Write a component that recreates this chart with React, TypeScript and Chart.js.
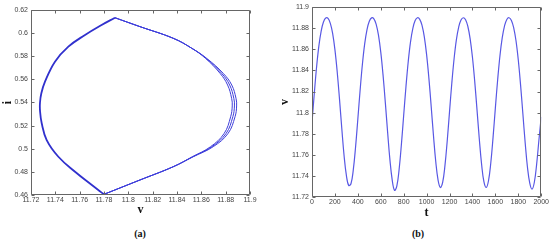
import React, { useEffect, useRef } from "react";
import { Chart, registerables } from "chart.js";

Chart.register(...registerables);

// ---------- Panel (a): phase portrait i vs v ----------
const vTicksA = [11.72, 11.74, 11.76, 11.78, 11.8, 11.82, 11.84, 11.86, 11.88, 11.9];
const iTicksA = [0.46, 0.48, 0.5, 0.52, 0.54, 0.56, 0.58, 0.6, 0.62];

// left arc: bottom vertex -> leftmost -> top vertex
const leftArcV = [11.780, 11.770, 11.7562, 11.7425, 11.7329, 11.7288, 11.7274, 11.7274, 11.7285, 11.7315, 11.7397, 11.7507, 11.7644, 11.778, 11.789];
const leftArcI = [0.4606, 0.4686, 0.4801, 0.4931, 0.5075, 0.5220, 0.5330, 0.5400, 0.5480, 0.5580, 0.5753, 0.5883, 0.5984, 0.6070, 0.6133];

// right arc: top vertex -> rightmost -> bottom vertex (three nearly coincident loops)
const rightArcI = [0.6133, 0.6056, 0.5955, 0.5870, 0.5782, 0.5652, 0.5551, 0.5436, 0.5370, 0.5277, 0.5133, 0.5018, 0.4931, 0.4845, 0.4730, 0.4606];
const rightArcV1 = [11.789, 11.8096, 11.837, 11.852, 11.8644, 11.878, 11.885, 11.8885, 11.889, 11.8877, 11.882, 11.8698, 11.8534, 11.837, 11.8096, 11.780];
const rightArcV2 = [11.789, 11.8096, 11.837, 11.852, 11.8639, 11.8767, 11.8833, 11.8867, 11.8872, 11.8859, 11.8804, 11.8687, 11.8530, 11.837, 11.8096, 11.780];
const rightArcV3 = [11.789, 11.8096, 11.837, 11.852, 11.8634, 11.8754, 11.8816, 11.8849, 11.8854, 11.8841, 11.8788, 11.8676, 11.8526, 11.837, 11.8096, 11.780];

// ---------- Panel (b): v vs t ----------
const tTicksB = [0, 200, 400, 600, 800, 1000, 1200, 1400, 1600, 1800, 2000];
const vTicksB = [11.72, 11.74, 11.76, 11.78, 11.8, 11.82, 11.84, 11.86, 11.88, 11.9];

const timeT = [
  0, 20, 40, 60, 80, 100, 120, 140, 160, 180, 200, 220, 240, 260, 280, 300, 320, 340, 360, 380,
  400, 420, 440, 460, 480, 500, 520, 540, 560, 580, 600, 620, 640, 660, 680, 700, 720, 740, 760, 780,
  800, 820, 840, 860, 880, 900, 920, 940, 960, 980, 1000, 1020, 1040, 1060, 1080, 1100, 1120, 1140, 1160, 1180,
  1200, 1220, 1240, 1260, 1280, 1300, 1320, 1340, 1360, 1380, 1400, 1420, 1440, 1460, 1480, 1500, 1520, 1540, 1560, 1580,
  1600, 1620, 1640, 1660, 1680, 1700, 1720, 1740, 1760, 1780, 1800, 1820, 1840, 1860, 1880, 1900, 1920, 1940, 1960, 1980,
  2000,
];
const voltageV = [
  11.7905, 11.8182, 11.8433, 11.8633, 11.8774, 11.8859, 11.8897, 11.8893, 11.8846, 11.8751,
  11.8597, 11.8386, 11.8128, 11.7849, 11.7591, 11.7405, 11.7310, 11.7326, 11.7455, 11.7672,
  11.7940, 11.8215, 11.8461, 11.8654, 11.8788, 11.8866, 11.8899, 11.8889, 11.8837, 11.8735,
  11.8574, 11.8356, 11.8093, 11.7812, 11.7552, 11.7360, 11.7263, 11.7303, 11.7460, 11.7698,
  11.7975, 11.8248, 11.8488, 11.8674, 11.8800, 11.8873, 11.8900, 11.8885, 11.8827, 11.8718,
  11.8550, 11.8325, 11.8059, 11.7781, 11.7534, 11.7360, 11.7290, 11.7339, 11.7497, 11.7734,
  11.8010, 11.8281, 11.8514, 11.8693, 11.8812, 11.8878, 11.8900, 11.8881, 11.8817, 11.8700,
  11.8525, 11.8294, 11.8024, 11.7748, 11.7508, 11.7345, 11.7290, 11.7354, 11.7523, 11.7768,
  11.8045, 11.8312, 11.8540, 11.8711, 11.8823, 11.8884, 11.8900, 11.8875, 11.8805, 11.8682,
  11.8499, 11.8261, 11.7989, 11.7715, 11.7482, 11.7332, 11.7275, 11.7340, 11.7510, 11.7740,
  11.7960,
];

const fmt = (v: any) => String(+Number(v).toFixed(2));
const tickFont = { family: "'Liberation Sans', Arial, sans-serif", size: 7 };
const tickColor = "#444";
const titleFont = { family: "'Liberation Serif', 'Times New Roman', serif", size: 12, weight: "bold" as const };

const framePlugin = {
  id: "matlabFrame",
  afterDatasetsDraw(chart: any) {
    const { ctx, chartArea } = chart;
    const { left, right, top, bottom } = chartArea;
    const xs = chart.scales.x;
    const ys = chart.scales.y;
    ctx.save();
    ctx.strokeStyle = "#666";
    ctx.lineWidth = 1;
    ctx.beginPath();
    const L = Math.round(left) + 0.5, R = Math.round(right) - 0.5;
    const T = Math.round(top) + 0.5, B = Math.round(bottom) - 0.5;
    ctx.rect(L, T, R - L, B - T);
    const tl = 3;
    xs.ticks.forEach((t: any) => {
      const px = Math.round(xs.getPixelForValue(t.value)) + 0.5;
      ctx.moveTo(px, B); ctx.lineTo(px, B - tl);
      ctx.moveTo(px, T); ctx.lineTo(px, T + tl);
    });
    ys.ticks.forEach((t: any) => {
      const py = Math.round(ys.getPixelForValue(t.value)) + 0.5;
      ctx.moveTo(L, py); ctx.lineTo(L + tl, py);
      ctx.moveTo(R, py); ctx.lineTo(R - tl, py);
    });
    ctx.stroke();
    ctx.restore();
  },
};

function pts(xs: number[], ys: number[]) {
  return xs.map((x, k) => ({ x, y: ys[k] }));
}

function makeScale(
  min: number, max: number, step: number, ticksList: number[], title: string,
  axis: "x" | "y", size: number, titlePad: number
) {
  return {
    type: "linear" as const,
    min, max,
    afterBuildTicks: (s: any) => { s.ticks = ticksList.map((value) => ({ value })); },
    ticks: {
      stepSize: step,
      callback: (v: any) => fmt(v),
      font: tickFont,
      color: tickColor,
      padding: axis === "x" ? 1 : 3,
      maxRotation: 0,
      autoSkip: false,
    },
    grid: { display: false, drawTicks: false },
    border: { display: false },
    title: {
      display: true,
      text: title,
      font: titleFont,
      color: "#111",
      padding: axis === "x" ? { top: 0, bottom: titlePad } : { top: titlePad, bottom: 0 },
    },
    afterFit: (s: any) => {
      if (axis === "x") s.height = size; else s.width = size;
    },
  };
}

function PanelA() {
  const ref = useRef<HTMLCanvasElement>(null);
  useEffect(() => {
    if (!ref.current) return;
    const dark = "rgb(48,48,205)";
    const line = "rgb(62,62,218)";
    const common = { showLine: true, pointRadius: 0, fill: false, tension: 0.4 };
    const chart = new Chart(ref.current, {
      type: "scatter",
      data: {
        datasets: [
          { ...common, data: pts(leftArcV, leftArcI), borderColor: dark, borderWidth: 1.8 },
          { ...common, data: pts(rightArcV1, rightArcI), borderColor: line, borderWidth: 1 },
          { ...common, data: pts(rightArcV2, rightArcI), borderColor: line, borderWidth: 1 },
          { ...common, data: pts(rightArcV3, rightArcI), borderColor: line, borderWidth: 1 },
        ],
      },
      options: {
        animation: false,
        responsive: false,
        maintainAspectRatio: false,
        layout: { padding: { top: 10, right: 15, left: 0, bottom: 0 } },
        plugins: { legend: { display: false }, tooltip: { enabled: false } },
        scales: {
          x: makeScale(11.72, 11.9, 0.02, vTicksA, "v", "x", 27, 5),
          y: makeScale(0.46, 0.62, 0.02, iTicksA, "i", "y", 31, 0.5),
        },
      } as any,
      plugins: [framePlugin],
    });
    return () => chart.destroy();
  }, []);
  return (
    <canvas
      ref={ref}
      width={265}
      height={222}
      style={{ position: "absolute", left: 0, top: 0, width: 265, height: 222 }}
    />
  );
}

function PanelB() {
  const ref = useRef<HTMLCanvasElement>(null);
  useEffect(() => {
    if (!ref.current) return;
    const chart = new Chart(ref.current, {
      type: "scatter",
      data: {
        datasets: [
          {
            data: pts(timeT, voltageV),
            showLine: true,
            pointRadius: 0,
            fill: false,
            tension: 0.4,
            borderColor: "rgb(88,88,228)",
            borderWidth: 1.2,
          },
        ],
      },
      options: {
        animation: false,
        responsive: false,
        maintainAspectRatio: false,
        layout: { padding: { top: 5, right: 8, left: 0, bottom: 0 } },
        plugins: { legend: { display: false }, tooltip: { enabled: false } },
        scales: {
          x: makeScale(0, 2000, 200, tTicksB, "t", "x", 25, 1.4),
          y: makeScale(11.72, 11.9, 0.02, vTicksB, "v", "y", 37, 2.4),
        },
      } as any,
      plugins: [framePlugin],
    });
    return () => chart.destroy();
  }, []);
  return (
    <canvas
      ref={ref}
      width={275}
      height={222}
      style={{ position: "absolute", left: 275, top: 0, width: 275, height: 222 }}
    />
  );
}

const captionStyle: React.CSSProperties = {
  position: "absolute",
  top: 233,
  transform: "translate(-50%, -50%)",
  fontFamily: "'Liberation Serif', 'Times New Roman', serif",
  fontWeight: "bold",
  fontSize: 10,
  color: "#111",
  whiteSpace: "nowrap",
};

export default function App() {
  return (
    <div style={{ position: "absolute", left: 0, top: 0, width: 550, height: 241, background: "#fff", overflow: "hidden" }}>
      <PanelA />
      <PanelB />
      <div style={{ ...captionStyle, left: 140 }}>(a)</div>
      <div style={{ ...captionStyle, left: 418 }}>(b)</div>
    </div>
  );
}
